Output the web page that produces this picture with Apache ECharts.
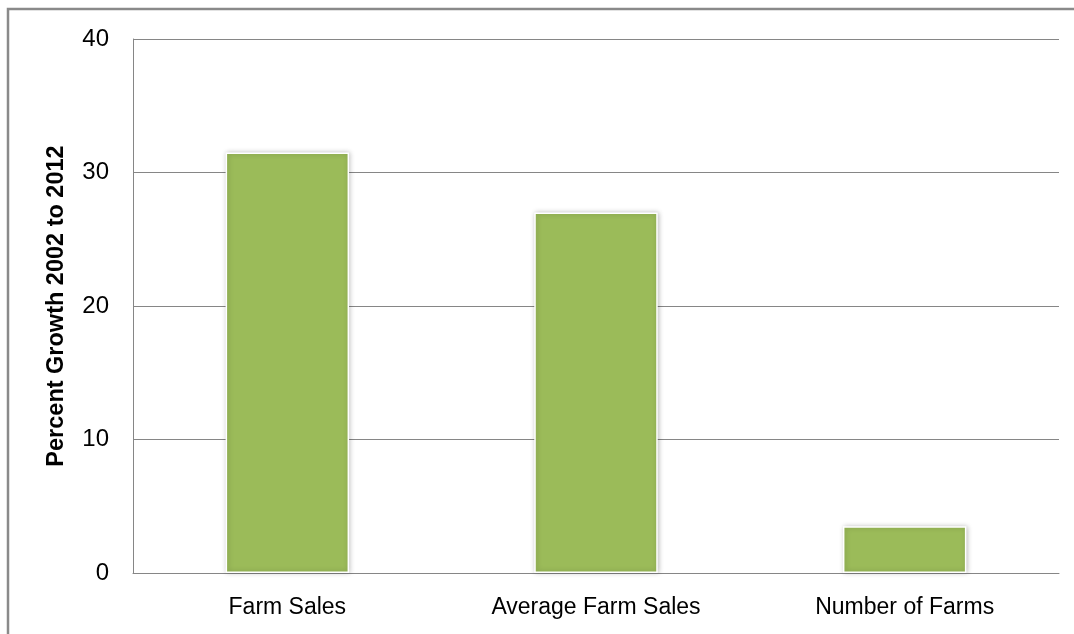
<!DOCTYPE html>
<html>
<head>
<meta charset="utf-8">
<script src="https://cdn.jsdelivr.net/npm/echarts@6/dist/echarts.min.js"></script>
<style>
html,body{margin:0;padding:0;background:#fff;}
#c{width:1074px;height:634px;}
</style>
</head>
<body>
<div id="c"></div>
<script>
const categories = ['Farm Sales', 'Average Farm Sales', 'Number of Farms'];
const growthValues = [31.5, 27.0, 3.5];
const yTicks = {min: 0, max: 40, interval: 10};
const yAxisTitle = 'Percent Growth 2002 to 2012';

const chart = echarts.init(document.getElementById('c'));
chart.setOption({
  animation: false,
  backgroundColor: '#fff',
  graphic: [{
    type: 'rect',
    shape: {x: 8, y: 9, width: 1100, height: 700},
    style: {fill: 'none', stroke: '#8a8a8a', lineWidth: 2.5},
    silent: true
  }],
  grid: {left: 133, right: 15, top: 39, bottom: 61, containLabel: false},
  xAxis: {
    type: 'category',
    data: categories,
    axisLine: {lineStyle: {color: '#868686', width: 1}},
    axisTick: {show: false},
    axisLabel: {color: '#000', fontFamily: 'Liberation Sans', fontSize: 23, margin: 23}
  },
  yAxis: {
    type: 'value',
    min: yTicks.min, max: yTicks.max, interval: yTicks.interval,
    name: yAxisTitle,
    nameLocation: 'middle',
    nameGap: 64,
    nameTextStyle: {color: '#000', fontFamily: 'Liberation Sans', fontSize: 23.5, fontWeight: 'bold'},
    axisLine: {show: true, lineStyle: {color: '#868686', width: 1}},
    axisTick: {show: false},
    splitLine: {lineStyle: {color: '#868686', width: 1}},
    axisLabel: {color: '#000', fontFamily: 'Liberation Sans', fontSize: 24, margin: 24}
  },
  series: [{
    type: 'bar',
    data: growthValues,
    barWidth: '40%',
    itemStyle: {
      color: '#9BBB59',
      borderColor: '#fff',
      borderWidth: 1.5,
      shadowBlur: 5,
      shadowColor: 'rgba(0,0,0,0.25)',
      shadowOffsetX: 1,
      shadowOffsetY: 0
    }
  }]
});
</script>
</body>
</html>
